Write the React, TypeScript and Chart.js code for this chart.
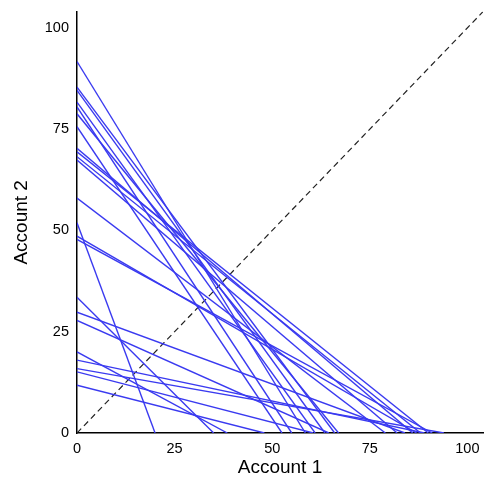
import { useEffect, useRef } from 'react';
import { Chart, registerables } from 'chart.js';

const yIntercepts = [91.7, 85.4, 84.6, 81.7, 80.5, 78.8, 75.6, 70.3, 69.4, 68.2, 67.4, 58, 51.9, 48.6, 47.8, 33.5, 29.8, 27.8, 20, 18, 15.9, 15.1, 11.8];
const xIntercepts = [58.5, 66, 63.5, 61, 55, 67, 52.5, 86, 90, 88, 82, 79, 20, 87, 91, 35, 84, 64.5, 38.5, 89, 94, 60.5, 48];
const tickValues = [0, 25, 50, 75, 100];

export default function App() {
  const chartRef = useRef(null);
  useEffect(() => {
    Chart.register(...registerables);
    const lines = yIntercepts.map((y, i) => ({
      data: [{ x: 0, y }, { x: xIntercepts[i], y: 0 }],
      borderColor: '#3a3af0',
      borderWidth: 1.4,
      pointRadius: 0,
    }));
    const font = { family: 'Liberation Sans', size: 14.5 };
    const titleFont = { family: 'Liberation Sans', size: 19 };
    const chart = new Chart(chartRef.current.getContext('2d'), {
      type: 'line',
      data: {
        datasets: [
          ...lines,
          {
            data: [{ x: 0, y: 0 }, { x: 104, y: 104 }],
            borderColor: '#222',
            borderWidth: 1.2,
            borderDash: [6, 4],
            pointRadius: 0,
          },
        ],
      },
      options: {
        animation: false,
        responsive: false,
        layout: { padding: { top: 8, right: 1, left: 6, bottom: 7 } },
        plugins: { legend: { display: false }, tooltip: { enabled: false } },
        scales: {
          x: {
            type: 'linear', min: 0, max: 104,
            afterBuildTicks: (ax) => { ax.ticks = tickValues.map((v) => ({ value: v })); },
            afterFit: (ax) => { ax.height = 46; },
            grid: { display: false, drawTicks: true, tickLength: 5, tickColor: '#000' },
            border: { color: '#000', width: 1.5 },
            ticks: { color: '#000', font, padding: 2 },
            title: { display: true, text: 'Account 1', color: '#000', font: titleFont, padding: 0 },
          },
          y: {
            type: 'linear', min: 0, max: 104,
            afterBuildTicks: (ax) => { ax.ticks = tickValues.map((v) => ({ value: v })); },
            afterFit: (ax) => { ax.width = 71; },
            grid: { display: false, drawTicks: true, tickLength: 5, tickColor: '#000' },
            border: { color: '#000', width: 1.5 },
            ticks: { color: '#000', font, padding: 3 },
            title: { display: true, text: 'Account 2', color: '#000', font: titleFont, padding: 4 },
          },
        },
      },
    });
    return () => chart.destroy();
  }, []);
  return (
    <div style={{ position: 'fixed', left: 0, top: 0, background: '#fff' }}>
      <canvas ref={chartRef} width={484} height={486} />
    </div>
  );
}
